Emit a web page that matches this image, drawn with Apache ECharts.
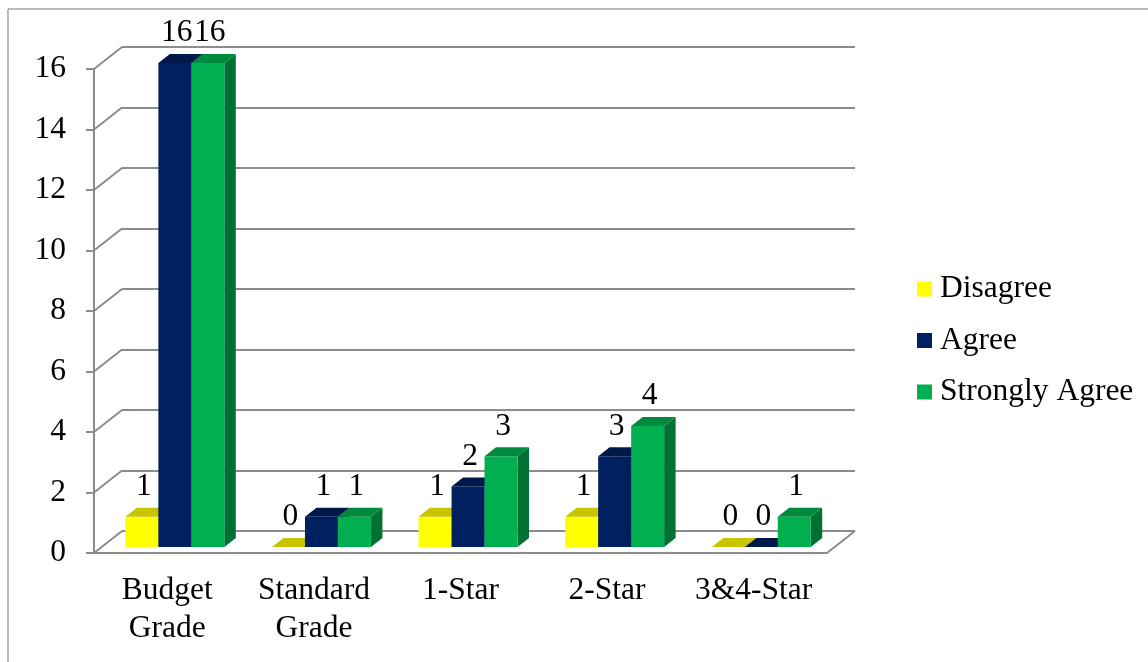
<!DOCTYPE html>
<html>
<head>
<meta charset="utf-8">
<script src="https://cdn.jsdelivr.net/npm/echarts@6/dist/echarts.min.js"></script>
<style>
html, body { margin: 0; padding: 0; background: #fff; }
#chart { width: 1148px; height: 662px; }
</style>
</head>
<body>
<div id="chart"></div>
<script>
const categories = ['Budget\nGrade', 'Standard\nGrade', '1-Star', '2-Star', '3&4-Star'];
const disagree = [1, 0, 1, 1, 0];
const agree = [16, 1, 2, 3, 0];
const stronglyAgree = [16, 1, 3, 4, 1];
const seriesNames = ['Disagree', 'Agree', 'Strongly Agree'];
const yTicks = [0, 2, 4, 6, 8, 10, 12, 14, 16];

const FONT = "'Liberation Serif', 'Times New Roman', serif";
const FS = 31.5;
const GREY = '#8c8c8c';
// fake 3d: shift from the front axis plane to the back wall
const DEPTH_X = 28, DEPTH_Y = -22;
const BAR_OFF = 0.27;    // bar fronts sit a bit inside the floor
const BAR_DEPTH = 0.41;  // how deep a bar is
const BAR_FRAC = 0.225;  // bar width as a share of one category

const palette = [
    {front: '#FFFF00', top: '#C8C400', side: '#B0AC00'},
    {front: '#002060', top: '#00184A', side: '#001540'},
    {front: '#00B050', top: '#008A3E', side: '#007132'}
];

function barRenderer(k) {
    return function (params, api) {
        const i = api.value(0), v = api.value(1);
        const w = api.size([1, 0])[0] * BAR_FRAC;
        const base = api.coord([i, 0]);
        const top = api.coord([i, v]);
        const ox = DEPTH_X * BAR_OFF, oy = DEPTH_Y * BAR_OFF;
        const dx = DEPTH_X * BAR_DEPTH, dy = DEPTH_Y * BAR_DEPTH;
        const x0 = base[0] + ox + (k - 1.5) * w;
        const x1 = x0 + w;
        const y0 = base[1] + oy, y1 = top[1] + oy;
        const c = palette[k];
        return {
            type: 'group',
            children: [
                {type: 'polygon', shape: {points: [[x1, y0], [x1 + dx, y0 + dy], [x1 + dx, y1 + dy], [x1, y1]]}, style: {fill: c.side}},
                {type: 'rect', shape: {x: x0, y: y1, width: w, height: y0 - y1}, style: {fill: c.front}},
                {type: 'polygon', shape: {points: [[x0, y1], [x1, y1], [x1 + dx, y1 + dy], [x0 + dx, y1 + dy]]}, style: {fill: c.top}},
                {type: 'text', z2: 10, style: {
                    text: String(v), x: (x0 + x1) / 2 + 2, y: y1 + dy - 21,
                    align: 'center', verticalAlign: 'middle',
                    fill: '#000', fontSize: FS, fontFamily: FONT
                }}
            ]
        };
    };
}

// diagonals from the front axis ticks to the back wall, plus the floor's right edge
function frameRenderer(params, api) {
    const cs = params.coordSys;
    const v = api.value(1);
    const y = api.coord([0, v])[1];
    const children = [
        {type: 'line', shape: {x1: cs.x, y1: y, x2: cs.x + DEPTH_X, y2: y + DEPTH_Y}, style: {stroke: GREY, lineWidth: 2}}
    ];
    if (v === 0) {
        const xr = cs.x + cs.width;
        children.push({type: 'line', shape: {x1: xr, y1: y, x2: xr + DEPTH_X, y2: y + DEPTH_Y}, style: {stroke: GREY, lineWidth: 2}});
    }
    return {type: 'group', children};
}

const chart = echarts.init(document.getElementById('chart'));
const values = [disagree, agree, stronglyAgree];

chart.setOption({
    animation: false,
    textStyle: {fontFamily: FONT},
    graphic: [
        {type: 'line', shape: {x1: 8, y1: 9, x2: 1148, y2: 9}, style: {stroke: '#a6a6a6', lineWidth: 1.5}},
        {type: 'line', shape: {x1: 8, y1: 9, x2: 8, y2: 662}, style: {stroke: '#a6a6a6', lineWidth: 1.5}}
    ],
    grid: [
        {left: 94, top: 69, width: 733, height: 484},
        {left: 122, top: 47, width: 733, height: 484}
    ],
    legend: {
        orient: 'vertical',
        left: 912,
        top: 268,
        itemWidth: 15,
        itemHeight: 15,
        itemGap: 19.5,
        icon: 'rect',
        selectedMode: false,
        data: seriesNames,
        textStyle: {fontSize: FS, fontFamily: FONT, color: '#000', lineHeight: 30, padding: [0, 0, 0, 3]}
    },
    xAxis: [
        {
            gridIndex: 0,
            type: 'category',
            data: categories,
            axisLine: {lineStyle: {color: GREY, width: 2}},
            axisTick: {length: 9, lineStyle: {color: GREY, width: 2}},
            axisLabel: {interval: 0, fontSize: FS, fontFamily: FONT, color: '#000', lineHeight: 38, margin: 19}
        },
        {gridIndex: 1, type: 'category', data: categories, show: false}
    ],
    yAxis: [
        {
            gridIndex: 0,
            type: 'value',
            min: 0, max: 16, interval: 2,
            axisLine: {show: true, lineStyle: {color: GREY, width: 2}},
            axisTick: {show: true, length: 8, lineStyle: {color: GREY, width: 2}},
            axisLabel: {fontSize: FS, fontFamily: FONT, color: '#000', margin: 28, padding: [6, 0, 0, 0]},
            splitLine: {show: false}
        },
        {
            gridIndex: 1,
            type: 'value',
            min: 0, max: 16, interval: 2,
            axisLine: {show: false},
            axisTick: {show: false},
            axisLabel: {show: false},
            splitLine: {show: true, lineStyle: {color: GREY, width: 2}}
        }
    ],
    series: [
        {
            type: 'custom',
            name: 'frame',
            xAxisIndex: 0, yAxisIndex: 0,
            z: 1,
            silent: true,
            renderItem: frameRenderer,
            encode: {x: 0, y: 1},
            data: yTicks.map(v => [0, v])
        }
    ].concat(seriesNames.map((name, k) => ({
        type: 'custom',
        name: name,
        xAxisIndex: 0, yAxisIndex: 0,
        z: 3,
        itemStyle: {color: palette[k].front},
        renderItem: barRenderer(k),
        encode: {x: 0, y: 1},
        data: values[k].map((v, i) => [i, v])
    })))
});
</script>
</body>
</html>
